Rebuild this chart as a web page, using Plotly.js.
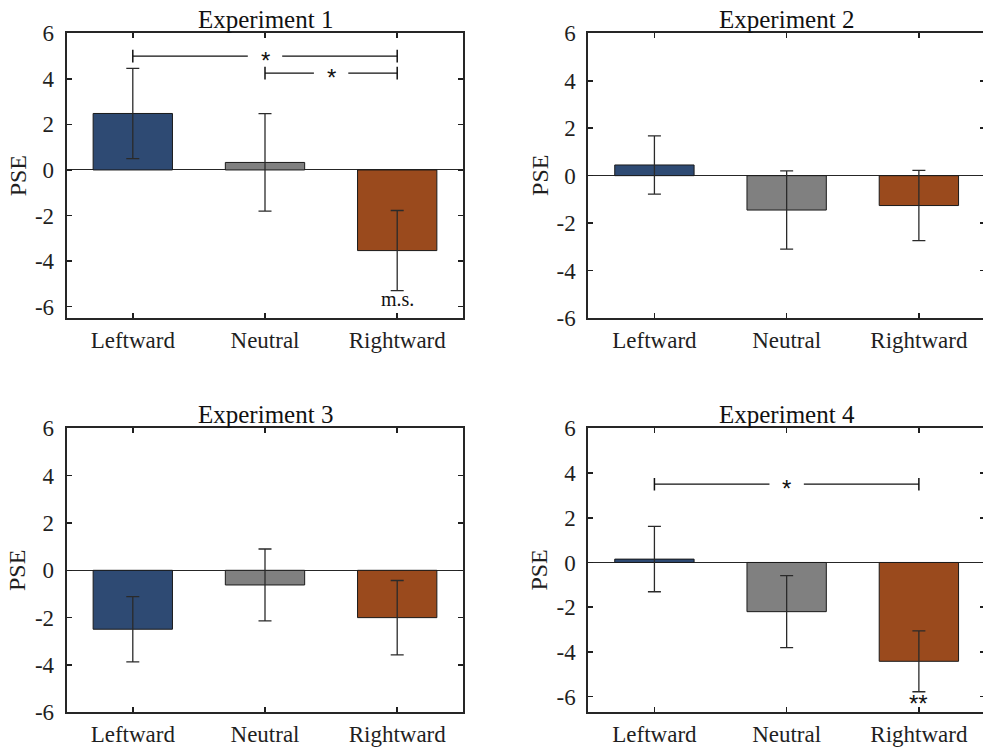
<!DOCTYPE html>
<html>
<head>
<meta charset="utf-8">
<script src="https://cdn.plot.ly/plotly-3.0.1.min.js"></script>
<style>
html,body{margin:0;padding:0;overflow:hidden;background:#fff;width:983px;height:749px;}
#chart{width:987px;height:749px;}
</style>
</head>
<body>
<div id="chart"></div>
<script>
// ---- data ----
const categories = ['Leftward', 'Neutral', 'Rightward'];
const catPos = [1, 2, 3];
const titles = ['Experiment 1', 'Experiment 2', 'Experiment 3', 'Experiment 4'];
const exp1Mean = [2.48, 0.33, -3.54];
const exp1Err  = [1.98, 2.14, 1.76];
const exp2Mean = [0.45, -1.45, -1.26];
const exp2Err  = [1.23, 1.65, 1.48];
const exp3Mean = [-2.49, -0.62, -2.00];
const exp3Err  = [1.38, 1.52, 1.57];
const exp4Mean = [0.15, -2.20, -4.42];
const exp4Err  = [1.46, 1.61, 1.36];
const yTicks = [-6, -4, -2, 0, 2, 4, 6];
const yRanges = [[-6.5, 6], [-6, 6], [-6, 6], [-6.7, 6]];
// significance brackets
const sigExp    = [0, 0, 3];
const sigFrom   = [1, 2, 1];
const sigTo     = [3, 3, 3];
const sigHeight = [5.0, 4.25, 3.5];
const sigLabel  = ['*', '*', '*'];
// single-condition markers
const markExp   = [0, 3];
const markX     = [3, 3];
const markY     = [-5.68, -6.12];
const markLabel = ['m.s.', '**'];

const means = [exp1Mean, exp2Mean, exp3Mean, exp4Mean];
const errs = [exp1Err, exp2Err, exp3Err, exp4Err];
const colors = ['#2e4a73', '#808080', '#9a4a1d'];

const W = 987, H = 749;
const xDomPx = [[66.7, 463.3], [588.3, 985], [66.7, 463.3], [588.3, 985]];
const yDomPx = [[33.3, 318], [33.3, 318], [428.3, 712.3], [428.3, 712.3]];

const serif = '"Liberation Serif", "Times New Roman", Times, serif';
const sans = '"Liberation Sans", Arial, Helvetica, sans-serif';
const ink = '#1f1f1f';

const traces = [];
const layout = {
  width: W, height: H,
  margin: {l: 0, r: 0, t: 0, b: 0},
  paper_bgcolor: '#fff', plot_bgcolor: '#fff',
  showlegend: false,
  font: {family: serif, size: 23, color: ink},
  annotations: []
};

for (let i = 0; i < 4; i++) {
  const xa = i === 0 ? 'x' : 'x' + (i + 1);
  const ya = i === 0 ? 'y' : 'y' + (i + 1);
  const xk = i === 0 ? 'xaxis' : 'xaxis' + (i + 1);
  const yk = i === 0 ? 'yaxis' : 'yaxis' + (i + 1);
  traces.push({
    type: 'bar', x: catPos, y: means[i], xaxis: xa, yaxis: ya,
    width: 0.6,
    marker: {color: colors, line: {color: '#1a1a1a', width: 1}},
    error_y: {type: 'data', array: errs[i], visible: true, color: '#2a2a2a', thickness: 1.3, width: 6.5},
    hoverinfo: 'skip'
  });
  layout[xk] = {
    domain: [xDomPx[i][0] / W, xDomPx[i][1] / W],
    anchor: ya, range: [0.5, 3.5],
    tickvals: catPos, ticktext: categories,
    ticks: 'inside', ticklen: 5, tickwidth: 1.5, tickcolor: ink,
    showline: true, linecolor: '#262626', linewidth: 2, mirror: 'allticks',
    showgrid: false, zeroline: false,
    tickfont: {family: serif, size: 23, color: ink},
    ticklabelstandoff: 0,
    fixedrange: true
  };
  layout[yk] = {
    domain: [1 - yDomPx[i][1] / H, 1 - yDomPx[i][0] / H],
    anchor: xa, range: yRanges[i],
    tickvals: yTicks, ticktext: yTicks.map(String),
    ticks: 'inside', ticklen: 5, tickwidth: 1.5, tickcolor: ink,
    showline: true, linecolor: '#262626', linewidth: 2, mirror: 'allticks',
    showgrid: false, zeroline: true, zerolinecolor: '#262626', zerolinewidth: 1,
    tickfont: {family: serif, size: 23, color: ink},
    ticklabelstandoff: 6,
    fixedrange: true
  };
  layout.annotations.push({
    text: titles[i], xref: xa + ' domain', yref: ya + ' domain', x: 0.5, y: 1,
    xanchor: 'center', yanchor: 'bottom', yshift: -2, showarrow: false,
    font: {family: serif, size: 25, color: '#111'}
  });
  layout.annotations.push({
    text: 'PSE', xref: xa + ' domain', yref: ya + ' domain', x: 0, y: 0.5,
    xanchor: 'center', yanchor: 'middle', xshift: -49, textangle: -90, showarrow: false,
    font: {family: serif, size: 24, color: ink}
  });
}

// significance brackets
for (let k = 0; k < sigExp.length; k++) {
  const i = sigExp[k];
  const xa = i === 0 ? 'x' : 'x' + (i + 1);
  const ya = i === 0 ? 'y' : 'y' + (i + 1);
  const mid = (sigFrom[k] + sigTo[k]) / 2;
  const gap = 0.13;
  const h = sigHeight[k];
  traces.push({
    type: 'scatter', mode: 'lines', xaxis: xa, yaxis: ya,
    x: [sigFrom[k], mid - gap, null, mid + gap, sigTo[k]],
    y: [h, h, null, h, h],
    line: {color: '#111', width: 1.2}, hoverinfo: 'skip'
  });
  traces.push({
    type: 'scatter', mode: 'markers', xaxis: xa, yaxis: ya,
    x: [sigFrom[k], sigTo[k]], y: [h, h],
    marker: {symbol: 'line-ns-open', size: 9, color: '#111', line: {color: '#111', width: 1.5}},
    hoverinfo: 'skip'
  });
  layout.annotations.push({
    text: sigLabel[k], xref: xa, yref: ya, x: mid, y: h,
    xanchor: 'center', yanchor: 'middle', yshift: -4, showarrow: false,
    font: {family: sans, size: 24, color: '#111'}
  });
}

for (let k = 0; k < markExp.length; k++) {
  const i = markExp[k];
  const xa = i === 0 ? 'x' : 'x' + (i + 1);
  const ya = i === 0 ? 'y' : 'y' + (i + 1);
  const isStar = markLabel[k].indexOf('*') >= 0;
  layout.annotations.push({
    text: markLabel[k], xref: xa, yref: ya, x: markX[k], y: markY[k],
    xanchor: 'center', yanchor: 'middle', yshift: isStar ? -4 : 0, showarrow: false,
    font: {family: isStar ? sans : serif, size: isStar ? 24 : 20, color: '#111'}
  });
}

Plotly.newPlot('chart', traces, layout, {displayModeBar: false, staticPlot: true});
</script>
</body>
</html>
